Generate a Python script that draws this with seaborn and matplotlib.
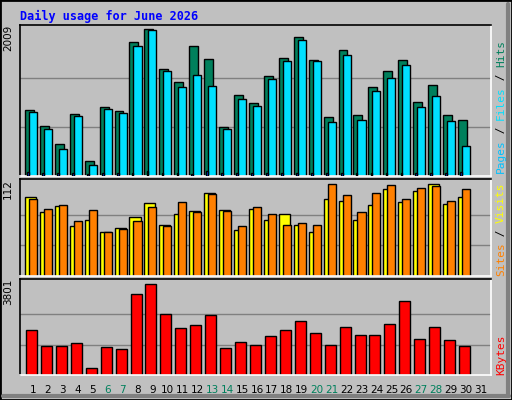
import numpy as np
import matplotlib
matplotlib.use("Agg")
import matplotlib.pyplot as plt
import seaborn as sns

days = np.arange(1, 31)
hits = [908, 688, 440, 853, 206, 949, 894, 1830, 2009, 1459, 1280, 1775, 1596, 674, 1101,
        1004, 1362, 1610, 1899, 1582, 812, 1720, 839, 1211, 1431, 1582, 1018, 1238, 839, 771]
files = [881, 647, 372, 826, 151, 922, 867, 1775, 1995, 1431, 1211, 1376, 1225, 647, 1046,
         963, 1321, 1569, 1858, 1569, 743, 1651, 771, 1156, 1335, 1514, 949, 1087, 757, 413]
pages = [55, 35, 45, 35, 30, 35, 35, 45, 70, 45, 45, 30, 75, 40, 35,
         35, 40, 45, 40, 35, 35, 40, 35, 40, 45, 40, 45, 40, 45, 50]
visits = [96, 78, 85, 61, 68, 54, 58, 72, 89, 62, 75, 79, 101, 80, 56,
          82, 68, 75, 62, 54, 94, 91, 68, 86, 106, 90, 103, 112, 88, 96]
sites = [94, 82, 86, 67, 80, 54, 57, 67, 84, 61, 90, 78, 100, 79, 61,
         84, 75, 62, 65, 62, 112, 99, 78, 101, 111, 94, 107, 110, 91, 106]
kbytes = [1880, 1211, 1211, 1337, 292, 1170, 1086, 3383, 3801, 2548, 1963, 2089, 2506, 1128, 1378,
          1253, 1629, 1880, 2256, 1754, 1253, 2005, 1671, 1671, 2130, 3091, 1504, 2005, 1462, 1211]
weekend = {6, 7, 13, 14, 20, 21, 27, 28}

sns.set_style("white")
plt.rcParams['font.family'] = ['DejaVu Sans']
BG = "#c0c0c0"
fig = plt.figure(figsize=(5.12, 4.0), dpi=100, facecolor=BG)

# 3D-ish frame
fig.add_artist(plt.Rectangle((0, 0), 1, 1, transform=fig.transFigure, fill=False, ec="black", lw=2))
fig.add_artist(plt.Line2D([3/512, 509/512], [4/400, 4/400], color="#808080", lw=3))
fig.add_artist(plt.Line2D([508/512, 508/512], [4/400, 396/400], color="#808080", lw=3))

L, W = 20/512, 471/512
def panel(top, bot):
    return fig.add_axes([L, (400-bot)/400, W, (bot-top)/400])

ax1 = panel(25, 176)
ax2 = panel(179, 276)
ax3 = panel(279, 375)

def bars(ax, vals, off, w, color, z=2):
    sns.barplot(x=days + off, y=vals, native_scale=True, width=w, color=color,
                edgecolor="black", linewidth=1, saturation=1, ax=ax, zorder=z)

bars(ax1, hits, -0.24, 0.6, "#00805c")
bars(ax1, files, 0.0, 0.54, "#00e0ff")
bars(ax1, pages, -0.33, 0.12, "#0040ff", z=3)
bars(ax2, visits, -0.17, 0.74, "#ffff00")
bars(ax2, sites, 0.0, 0.54, "#ff8000")
bars(ax3, kbytes, -0.1, 0.74, "#ff0000")

for ax, mx, frac, lab in [(ax1, 2009, 151/147, "2009"), (ax2, 112, 97/92, "112"),
                          (ax3, 3801, 96/91, "3801")]:
    ax.set_facecolor(BG)
    ax.set_xlim(0.13, 31.67)
    ax.set_ylim(0, mx*frac)
    for g in (mx/3, 2*mx/3):
        ax.axhline(g, color="#808080", lw=1, zorder=0)
    ax.set_xticks([])
    ax.set_yticks([])
    ax.set_xlabel("")
    ax.set_ylabel("")
    for s in ("left", "top"):
        ax.spines[s].set_color("black")
        ax.spines[s].set_linewidth(1.2)
    for s in ("right", "bottom"):
        ax.spines[s].set_color("white")
        ax.spines[s].set_linewidth(1.2)
    ax.text(-0.025, 1.0, lab, transform=ax.transAxes, rotation=90, ha="center", va="top",
            fontsize=7.5, color="black")

for d in range(1, 32):
    ax3.text(d, -0.1, str(d), transform=ax3.get_xaxis_transform(), ha="center", va="top",
             fontsize=7.5, color="#00805c" if d in weekend else "black")

fig.text(20/512, 1 - 16/400, "Daily usage for June 2026", color="#0000ff", fontsize=8.5,
         fontweight="bold", family="DejaVu Sans Mono", va="center")

def side_label(parts, y_bottom, step=6.6):
    y = y_bottom
    for txt, col in parts:
        fig.text(501/512, 1 - y/400, txt, rotation=90, ha="center", va="bottom",
                 fontsize=8, family="DejaVu Sans Mono", color=col)
        y -= step * len(txt)

side_label([("Pages", "#00c0ff"), (" / ", "black"), ("Files", "#00e0ff"),
            (" / ", "black"), ("Hits", "#00805c")], 173)
side_label([("Sites", "#ff8000"), (" / ", "black"), ("Visits", "#ffff00")], 276)
side_label([("KBytes", "#ff0000")], 375)

fig.savefig("out.png", dpi=100, facecolor=BG)
